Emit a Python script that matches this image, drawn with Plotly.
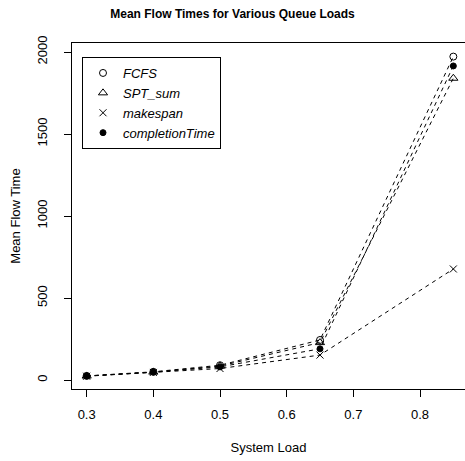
import plotly.graph_objects as go

loads = [0.3, 0.4, 0.5, 0.65, 0.85]
fcfs = [25, 50, 90, 244, 1972]
spt_sum = [24, 48, 85, 228, 1840]
makespan = [23, 46, 70, 152, 677]
completion = [24, 48, 80, 190, 1915]

series_names = ["FCFS", "SPT_sum", "makespan", "completionTime"]
series_values = [fcfs, spt_sum, makespan, completion]
symbols = ["circle-open", "triangle-up-open", "x-thin-open", "circle"]
sizes = [7, 8, 7, 6]

x_ticks = [0.3, 0.4, 0.5, 0.6, 0.7, 0.8]
y_ticks = [0, 500, 1000, 1500, 2000]

FONT = "Liberation Sans, Arial, Helvetica, sans-serif"

fig = go.Figure()
for name, vals, sym, sz in zip(series_names, series_values, symbols, sizes):
    fig.add_trace(go.Scatter(
        x=loads, y=vals, mode="lines+markers", showlegend=False, cliponaxis=False,
        line=dict(color="black", width=1, dash="4px,4px"),
        marker=dict(symbol=sym, size=sz, color="black",
                    line=dict(color="black", width=1)),
    ))
for name, sym, sz in zip(series_names, symbols, sizes):
    fig.add_trace(go.Scatter(
        x=[None], y=[None], mode="markers", name=name,
        marker=dict(symbol=sym, size=sz, color="black",
                    line=dict(color="black", width=1)),
    ))

fig.update_layout(
    width=465, height=461,
    margin=dict(l=72, r=0, t=43, b=72, autoexpand=False),
    paper_bgcolor="white", plot_bgcolor="white",
    font=dict(family=FONT, size=13, color="black"),
    title=dict(text="<b>Mean Flow Times for Various Queue Loads</b>",
               x=0.5, xref="container", xanchor="center",
               y=1 - 14 / 461, yref="container", yanchor="middle",
               font=dict(size=12, family=FONT, color="black")),
    showlegend=True,
    legend=dict(x=(82 - 72) / 393, y=1 - (57 - 43) / 346, xanchor="left", yanchor="top",
                bordercolor="black", borderwidth=1, bgcolor="white",
                font=dict(size=13, family=FONT, style="italic"),
                itemwidth=30, tracegroupgap=0),
)
fig.update_xaxes(
    range=[0.278, 0.8675], tickvals=x_ticks, ticktext=[str(v) for v in x_ticks],
    automargin=False, tickfont=dict(size=13),
    showgrid=False, zeroline=False, showline=True, linecolor="black", linewidth=1,
    mirror=True, ticks="outside", ticklen=7, tickcolor="black", tickwidth=1,
    ticklabelstandoff=6,
    title=dict(text="System Load", standoff=22, font=dict(size=13)),
)
fig.update_yaxes(
    range=[-54.9, 2054.9], tickvals=y_ticks, ticktext=[str(v) for v in y_ticks],
    tickangle=-90, automargin=False, tickfont=dict(size=13),
    showgrid=False, zeroline=False, showline=True, linecolor="black", linewidth=1,
    mirror=False, ticks="outside", ticklen=7, tickcolor="black", tickwidth=1,
    ticklabelstandoff=12,
    title=dict(text="Mean Flow Time", standoff=11, font=dict(size=13)),
)
fig.write_html("out.html", config={"displayModeBar": False},
               post_script="document.body.style.margin='0px';")
